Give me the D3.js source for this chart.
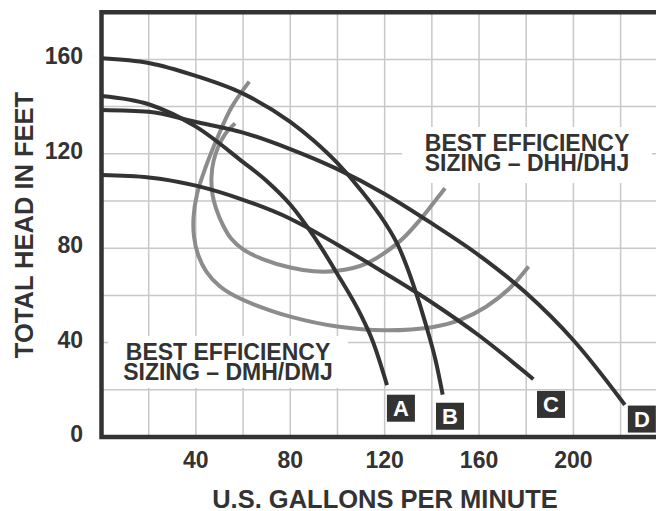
<!DOCTYPE html>
<html>
<head>
<meta charset="utf-8">
<script src="https://cdn.jsdelivr.net/npm/d3@7"></script>
<style>
  body { margin: 0; background: #fff; }
  text { font-family: "Liberation Sans", Arial, Helvetica, sans-serif; font-weight: bold; fill: #333; }
</style>
</head>
<body>
<div id="plot"></div>
<script>
// pump curves, flow in gpm / head in feet
const flowA = [0, 20, 40, 60, 70, 80, 90, 100, 110, 115, 121];
const headA = [144.5, 141, 131.5, 116.5, 108.5, 98.5, 85, 69, 51.5, 40.5, 22];

const flowB = [0, 20, 40, 60, 80, 90, 100, 110, 120, 126, 132, 137.5, 141.7, 144.6];
const headB = [160.5, 158.5, 153, 145.5, 133.5, 125.5, 116, 104.5, 91, 80.5, 65, 47.5, 32, 18];

const flowC = [0, 20, 40, 60, 80, 100, 120, 140, 160, 180, 183];
const headC = [111, 110, 106.5, 100.5, 92.5, 81.5, 69.5, 57, 43, 27, 24.5];

const flowD = [0, 20, 40, 60, 80, 100, 120, 140, 160, 180, 200, 220, 221.8];
const headD = [138.6, 137.8, 133.5, 129, 122, 113.5, 103, 90.5, 77, 61, 41, 16, 13.6];

// best efficiency regions
const dmhFlow = [62.6, 55, 49, 44, 40.5, 39, 39.2, 41, 44.5, 50, 57, 65, 80, 100, 120, 140, 152, 163, 173, 181];
const dmhHead = [150.6, 139.5, 126.5, 114, 103, 93, 85, 77, 70, 64, 59.5, 56, 51, 46.8, 45.2, 46.5, 49.6, 55.2, 63, 72.2];

const dhhFlow = [56.6, 52.5, 49.5, 47.5, 46.6, 47, 48.5, 51.6, 55, 60, 68, 80, 90, 100, 112.4, 126.5, 134.9, 140.6, 145.6];
const dhhHead = [132.9, 128.5, 123, 117, 110, 103, 97, 89.5, 84, 79.5, 75.5, 71.8, 70.2, 70.4, 73.6, 83, 91.9, 99, 105.4];

// curve tags
const tagNames = ["A", "B", "C", "D"];
const tagFlow = [126.9, 147.7, 190.5, 229];
const tagHead = [12.2, 8.8, 13.8, 7.6];

// axis ticks
const xTicks = [40, 80, 120, 160, 200];
const yTicks = [0, 40, 80, 120, 160];
const xGrid = [20, 40, 60, 80, 100, 120, 140, 160, 180, 200, 220];
const yGrid = [20, 40, 60, 80, 100, 120, 140, 160];

const width = 656, height = 511;
const dark = "#333", grey = "#8c8c8c";

const svg = d3.select("#plot")
    .append("svg")
    .attr("width", width)
    .attr("height", height);

const x = d3.scaleLinear().domain([0, 235]).range([101.5, 656]);
const y = d3.scaleLinear().domain([0, 180]).range([437, 12.2]);

// grid
svg.append("g")
    .selectAll("line")
    .data(xGrid)
    .enter()
    .append("line")
    .attr("x1", d => x(d)).attr("x2", d => x(d))
    .attr("y1", y(0)).attr("y2", y(180))
    .attr("stroke", "#c8c8c8")
    .attr("stroke-width", 1.5);

svg.append("g")
    .selectAll("line")
    .data(yGrid)
    .enter()
    .append("line")
    .attr("x1", x(0)).attr("x2", width)
    .attr("y1", d => y(d)).attr("y2", d => y(d))
    .attr("stroke", "#c8c8c8")
    .attr("stroke-width", 1.5);

// white boxes behind the notes
svg.append("rect").attr("x", 402).attr("y", 127).attr("width", 250).attr("height", 56).attr("fill", "#fff");
svg.append("rect").attr("x", 108).attr("y", 336).attr("width", 240).attr("height", 52).attr("fill", "#fff");

// notes
const note1 = svg.append("text").attr("text-anchor", "middle").style("font-size", "23px");
note1.append("tspan").attr("x", 527).attr("y", 151).text("BEST EFFICIENCY");
note1.append("tspan").attr("x", 527).attr("y", 171).text("SIZING – DHH/DHJ");

const note2 = svg.append("text").attr("text-anchor", "middle").style("font-size", "23px");
note2.append("tspan").attr("x", 228).attr("y", 359.5).text("BEST EFFICIENCY");
note2.append("tspan").attr("x", 228).attr("y", 380).text("SIZING – DMH/DMJ");

// efficiency loops (not functions of flow)
const loop = d3.line()
    .x(d => x(d[0]))
    .y(d => y(d[1]))
    .curve(d3.curveCatmullRom.alpha(0.5));

const effCurves = [[dmhFlow, dmhHead], [dhhFlow, dhhHead]];
svg.append("g")
    .selectAll("path")
    .data(effCurves)
    .enter()
    .append("path")
    .attr("fill", "none")
    .attr("stroke", grey)
    .attr("stroke-width", 4)
    .attr("d", d => loop(d3.zip(d[0], d[1])));

// pump curves
const line = d3.line()
    .x(d => x(d[0]))
    .y(d => y(d[1]))
    .curve(d3.curveMonotoneX);

const pumpCurves = [[flowA, headA], [flowB, headB], [flowC, headC], [flowD, headD]];
svg.append("g")
    .selectAll("path")
    .data(pumpCurves)
    .enter()
    .append("path")
    .attr("fill", "none")
    .attr("stroke", dark)
    .attr("stroke-width", 4)
    .attr("d", d => line(d3.zip(d[0], d[1])));

// frame: left, top, bottom
svg.append("path")
    .attr("fill", "none")
    .attr("stroke", dark)
    .attr("stroke-width", 4.5)
    .attr("d", "M" + width + "," + y(180) + "H" + x(0) + "V" + y(0) + "H" + width);

// curve tags
const tags = svg.append("g")
    .selectAll("g")
    .data(tagNames)
    .enter()
    .append("g")
    .attr("transform", (d, i) => "translate(" + x(tagFlow[i]) + "," + y(tagHead[i]) + ")");

tags.append("rect")
    .attr("x", -14).attr("y", -13.5)
    .attr("width", 28).attr("height", 27)
    .attr("fill", dark);

tags.append("text")
    .attr("text-anchor", "middle")
    .attr("y", 8)
    .style("font-size", "22px")
    .style("fill", "#fff")
    .text(d => d);

// tick labels
svg.append("g")
    .selectAll("text")
    .data(xTicks)
    .enter()
    .append("text")
    .attr("x", d => x(d))
    .attr("y", 468)
    .attr("text-anchor", "middle")
    .style("font-size", "23px")
    .text(d => d);

svg.append("g")
    .selectAll("text")
    .data(yTicks)
    .enter()
    .append("text")
    .attr("x", 83)
    .attr("y", d => y(d) + 5)
    .attr("text-anchor", "end")
    .style("font-size", "23px")
    .text(d => d);

// axis titles
svg.append("text")
    .attr("x", 385)
    .attr("y", 508)
    .attr("text-anchor", "middle")
    .style("font-size", "25.5px")
    .text("U.S. GALLONS PER MINUTE");

svg.append("text")
    .attr("transform", "translate(33,225) rotate(-90)")
    .attr("text-anchor", "middle")
    .style("font-size", "25.5px")
    .text("TOTAL HEAD IN FEET");
</script>
</body>
</html>
